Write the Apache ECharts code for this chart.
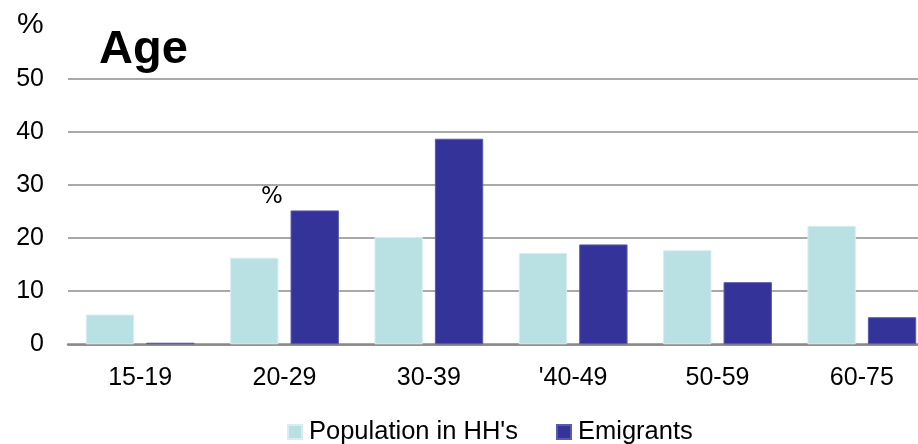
<!DOCTYPE html>
<html>
<head>
<meta charset="utf-8">
<script src="https://cdn.jsdelivr.net/npm/echarts@6/dist/echarts.min.js"></script>
<style>
html,body{margin:0;padding:0;background:#fff;}
#c{width:918px;height:444px;}
</style>
</head>
<body>
<div id="c"></div>
<script>
const categories = ["15-19", "20-29", "30-39", "'40-49", "50-59", "60-75"];
const population = [5.6, 16.3, 20.2, 17.2, 17.7, 22.3];
const emigrants = [0.3, 25.2, 38.7, 18.8, 11.7, 5.1];
const yTicks = { min: 0, max: 50, interval: 10 };

const FONT = "Liberation Sans, Arial, sans-serif";
const chart = echarts.init(document.getElementById('c'), null, { renderer: 'canvas' });
chart.setOption({
  animation: false,
  backgroundColor: '#fff',
  textStyle: { fontFamily: FONT },
  title: {
    text: 'Age', left: 94, top: 22,
    textStyle: { fontFamily: FONT, fontSize: 47, fontWeight: 'bold', color: '#000' }
  },
  graphic: [
    { type: 'text', left: 17, top: 10, style: { text: '%', font: '30px ' + FONT, fill: '#000' } },
    { type: 'text', left: 261, top: 186, style: { text: '%', font: '23px DejaVu Sans, sans-serif', fill: '#000' } }
  ],
  legend: {
    left: 282, top: 414,
    itemWidth: 14, itemHeight: 14, itemGap: 38,
    icon: 'rect',
    textStyle: { fontFamily: FONT, fontSize: 25.5, color: '#000', padding: [0, 0, 0, 2] },
    data: ["Population in HH's", 'Emigrants']
  },
  grid: { left: 68, width: 866, top: 78.7, bottom: 99.7, containLabel: false, outerBoundsMode: 'none' },
  xAxis: {
    type: 'category', data: categories,
    axisLine: { show: true, lineStyle: { color: '#8a8a8a', width: 2.5 } },
    axisTick: { show: false },
    axisLabel: { fontFamily: FONT, fontSize: 25, color: '#000', margin: 21 }
  },
  yAxis: {
    type: 'value', min: yTicks.min, max: yTicks.max, interval: yTicks.interval,
    axisLine: { show: false }, axisTick: { show: false },
    axisLabel: { fontFamily: FONT, fontSize: 25, color: '#000', margin: 24 },
    splitLine: { lineStyle: { color: '#8c8c8c', width: 1.6 } }
  },
  series: [
    {
      name: "Population in HH's", type: 'bar', data: population,
      barWidth: '33.5%', barGap: '25%',
      itemStyle: { color: '#b9e0e3', borderColor: '#d6eef0', borderWidth: 1 }
    },
    {
      name: 'Emigrants', type: 'bar', data: emigrants,
      barWidth: '33.5%', barGap: '25%',
      itemStyle: { color: '#333399', borderColor: '#5a5aae', borderWidth: 1 }
    }
  ]
});
</script>
</body>
</html>
